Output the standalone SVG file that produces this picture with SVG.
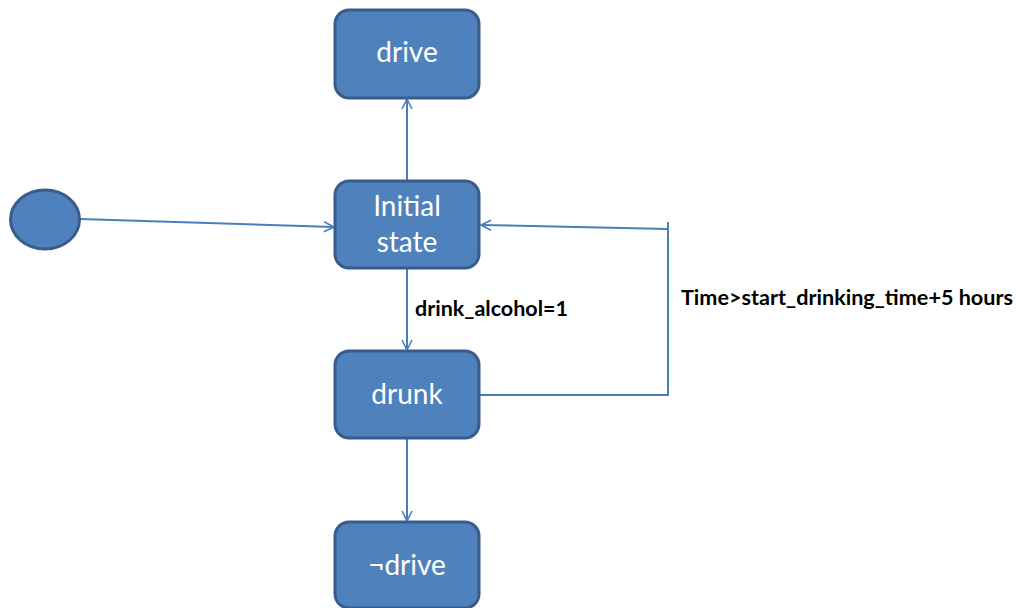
<svg xmlns="http://www.w3.org/2000/svg" width="1016" height="608" viewBox="0 0 1016 608">
  <style>
    .state { fill: #4F81BD; stroke: #385D8A; stroke-width: 3; }
    .state-text { fill: #FFFFFF; font-family: Lato, "Open Sans", "DejaVu Sans", sans-serif; font-size: 28px; text-anchor: middle; }
    .edge { fill: none; stroke: #4A7EBB; stroke-width: 2; }
    .guard { fill: #000000; font-family: Lato, "Open Sans", "DejaVu Sans", sans-serif; font-size: 21px; font-weight: bold; }
  </style>
  <defs>
    <marker id="open-arrow" viewBox="0 0 12 12" refX="11" refY="6" markerWidth="12" markerHeight="12" markerUnits="userSpaceOnUse" orient="auto">
      <path d="M1,1 L11,6 L1,11" fill="none" stroke="#4A7EBB" stroke-width="1.6"/>
    </marker>
  </defs>
  <rect width="1016" height="608" fill="#FFFFFF"/>

  <g id="connectors">
    <line class="edge" x1="80" y1="219" x2="334" y2="227" marker-end="url(#open-arrow)"/>
    <line class="edge" x1="407" y1="181" x2="407" y2="99" marker-end="url(#open-arrow)"/>
    <line class="edge" x1="407" y1="268" x2="407" y2="350" marker-end="url(#open-arrow)"/>
    <line class="edge" x1="407" y1="438" x2="407" y2="521" marker-end="url(#open-arrow)"/>
    <polyline class="edge" points="480,395 668,395 668,222"/>
    <line class="edge" x1="668" y1="229" x2="481" y2="225" marker-end="url(#open-arrow)"/>
    <text class="guard" x="415" y="316" textLength="153" lengthAdjust="spacingAndGlyphs">drink_alcohol=1</text>
    <text class="guard" x="681" y="305" textLength="332" lengthAdjust="spacingAndGlyphs">Time&gt;start_drinking_time+5 hours</text>
  </g>

  <g id="start">
    <ellipse class="state" cx="45" cy="219.5" rx="34.5" ry="29.5"/>
  </g>

  <g id="drive">
    <rect class="state" x="335" y="10" width="144" height="88" rx="14"/>
    <text class="state-text" x="407" y="62">drive</text>
  </g>

  <g id="initial-state">
    <rect class="state" x="335" y="181" width="144" height="87" rx="14"/>
    <text class="state-text" x="407" y="216">Initial</text>
    <text class="state-text" x="407" y="252">state</text>
  </g>

  <g id="drunk">
    <rect class="state" x="335" y="351" width="144" height="87" rx="14"/>
    <text class="state-text" x="407" y="404">drunk</text>
  </g>

  <g id="not-drive">
    <rect class="state" x="335" y="522" width="144" height="86" rx="14"/>
    <text class="state-text" x="407" y="575">¬drive</text>
  </g>
</svg>
